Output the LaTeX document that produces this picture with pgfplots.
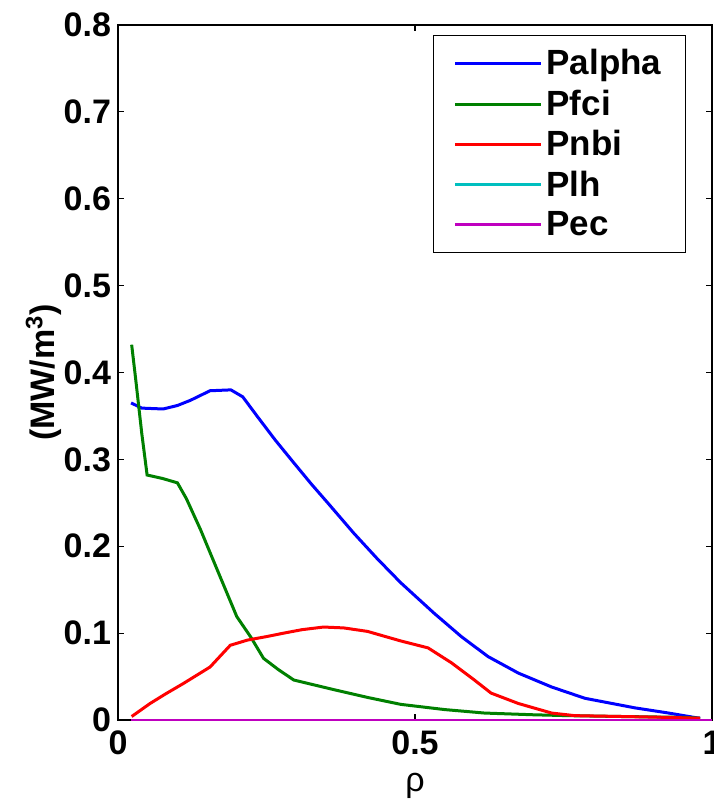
\documentclass[border=0pt]{standalone}
\usepackage{fontspec}
\setmainfont{Liberation Sans}
\usepackage{pgfplots}
\pgfplotsset{compat=1.18}
\definecolor{mblue}{rgb}{0,0,1}
\definecolor{mgreen}{rgb}{0,0.5,0}
\definecolor{mred}{rgb}{1,0,0}
\definecolor{mcyan}{rgb}{0,0.75,0.75}
\definecolor{mmag}{rgb}{0.75,0,0.75}
\begin{document}
\begin{tikzpicture}
\begin{axis}[
  scale only axis,
  width=297pt, height=347.5pt,
  xmin=0, xmax=1, ymin=0, ymax=0.8,
  xtick={0,0.5,1}, xticklabels={0,0.5,1},
  ytick={0,0.1,...,0.8},
  yticklabels={0,0.1,0.2,0.3,0.4,0.5,0.6,0.7,0.8},
  tick align=inside,
  major tick length=3pt,
  tick style={black, line width=0.6pt},
  axis line style={black, line width=0.6pt},
  ticklabel style={font=\fontsize{17}{20}\selectfont\bfseries},
  xticklabel style={yshift=-2pt},
  xlabel={\fontsize{17}{20}\selectfont ρ},
  ylabel={\fontsize{17}{20}\selectfont\bfseries (MW/m$^{\mathbf{3}}$)},
  xlabel style={yshift=-2pt},
  ylabel style={yshift=-6pt},
  legend style={at={(1,1)}, anchor=north east, xshift=-13pt, yshift=-5pt,
    draw=black, line width=0.6pt, font=\fontsize{17.5}{21}\selectfont\bfseries,
    row sep=2pt, inner xsep=10pt, inner ysep=5pt},
  legend cell align=left,
  legend image code/.code={\path (-5pt,0pt) -- (38pt,0pt);\draw[#1, line width=1.5pt] (0pt,0pt) -- (33pt,0pt);},
  every axis plot/.append style={line width=1.5pt},
]
\addplot[mblue] coordinates {
(0.022,0.365) (0.04,0.359) (0.076,0.358) (0.10,0.362) (0.122,0.368) (0.155,0.379)
(0.19,0.380) (0.21,0.372) (0.235,0.349) (0.265,0.322) (0.296,0.296) (0.325,0.272)
(0.353,0.250) (0.397,0.215) (0.436,0.186) (0.476,0.158) (0.532,0.123) (0.578,0.096)
(0.623,0.073) (0.674,0.054) (0.730,0.038) (0.786,0.025) (0.870,0.014) (0.927,0.008)
(0.97,0.003) (0.98,0.002)};
\addlegendentry{Palpha}
\addplot[mgreen] coordinates {
(0.023,0.432) (0.030,0.391) (0.040,0.330) (0.049,0.282) (0.075,0.278) (0.10,0.273)
(0.115,0.255) (0.139,0.219) (0.167,0.173) (0.20,0.119) (0.223,0.096) (0.245,0.071)
(0.27,0.058) (0.296,0.046) (0.363,0.035) (0.42,0.026) (0.476,0.018) (0.55,0.012)
(0.617,0.008) (0.70,0.006) (0.758,0.005) (0.85,0.004) (0.955,0.003) (0.98,0.002)};
\addlegendentry{Pfci}
\addplot[mred] coordinates {
(0.023,0.004) (0.054,0.019) (0.08,0.030) (0.11,0.042) (0.155,0.061) (0.189,0.086)
(0.218,0.092) (0.25,0.096) (0.279,0.100) (0.31,0.104) (0.346,0.107) (0.38,0.106)
(0.42,0.102) (0.476,0.091) (0.522,0.083) (0.561,0.066) (0.60,0.046) (0.628,0.031)
(0.674,0.019) (0.73,0.008) (0.769,0.005) (0.85,0.004) (0.927,0.003) (0.98,0.002)};
\addlegendentry{Pnbi}
\addplot[mcyan] coordinates {(0.022,0) (0.5,0) (1,0)};
\addlegendentry{Plh}
\addplot[mmag] coordinates {(0.022,0) (0.5,0) (1,0)};
\addlegendentry{Pec}
\end{axis}
\pgfresetboundingbox
\path ([shift={(-59pt,-41.5pt)}]current axis.south west) rectangle ([shift={(1pt,12.5pt)}]current axis.north east);
\end{tikzpicture}
\end{document}
